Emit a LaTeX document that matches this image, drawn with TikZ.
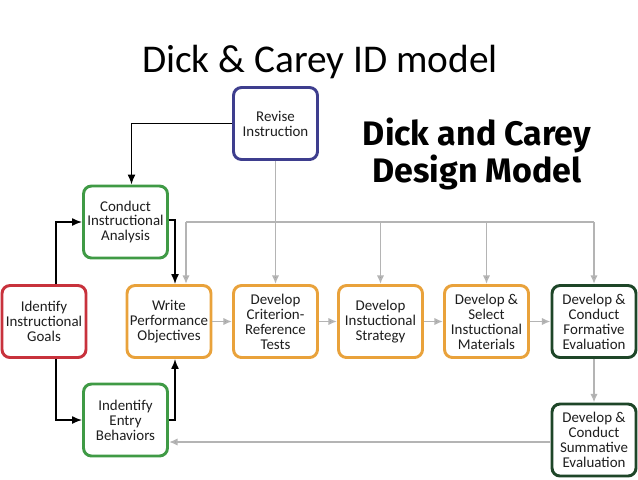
\documentclass[tikz,border=0pt]{standalone}
\usepackage{fontspec}
\setmainfont{Carlito}
\newfontfamily\headfont{Fira Sans}
\usetikzlibrary{arrows.meta,calc}
\definecolor{ink}{HTML}{1E1E1E}
\definecolor{goalred}{HTML}{C8323C}
\definecolor{stepamber}{HTML}{E9A23B}
\definecolor{analgreen}{HTML}{3F9A45}
\definecolor{evaldark}{HTML}{1E4628}
\definecolor{revnavy}{HTML}{3E3E8E}
\definecolor{feedgray}{HTML}{B4B4B4}
\tikzset{
  stepbox/.style={draw=#1, line width=2.2pt, rounded corners=6pt, fill=white, text=ink,
    minimum width=63pt, minimum height=54pt, align=center, inner sep=0.5pt,
    font=\fontsize{11.2}{11.2}\selectfont},
  blk/.style={draw=black, line width=1.1pt, -{Latex[length=7.5pt,width=6pt]}},
  gry/.style={draw=feedgray, line width=1.4pt, -{Latex[length=6.5pt,width=5.5pt,fill=feedgray!70!black]}},
  gryline/.style={draw=feedgray, line width=1.4pt}
}

\begin{document}
\begin{tikzpicture}[x=0.75pt, y=-0.75pt]
\useasboundingbox[fill=white] (0,0) rectangle (638,479);
\node[font=\fontsize{29.5}{31}\selectfont, text=black] (title) at (320,62) {Dick \& Carey ID model};
\node[font=\headfont\bfseries\fontsize{25.5}{28}\selectfont, text=black, align=center] (hd) at (477,154) {Dick and Carey\\Design Model};

% boxes
\node[stepbox=revnavy] (rev) at (275.5,123.5) {Revise\\Instruction};
\node[stepbox=analgreen] (cia) at (125.5,222) {Conduct\\Instructional\\Analysis};
\node[stepbox=goalred] (goals) at (44,321.5) {Identify\\Instructional\\Goals};
\node[stepbox=stepamber] (wpo) at (169,321.5) {Write\\Performance\\Objectives};
\node[stepbox=stepamber] (crt) at (275.5,321.5) {Develop\\Criterion-\\Reference\\Tests};
\node[stepbox=stepamber] (strat) at (380.5,321.5) {Develop\\Instuctional\\Strategy};
\node[stepbox=stepamber] (mat) at (486.5,321.5) {Develop \&\\Select\\Instuctional\\Materials};
\node[stepbox=evaldark] (form) at (594,321.5) {Develop \&\\Conduct\\Formative\\Evaluation};
\node[stepbox=analgreen] (entry) at (125.5,420) {Indentify\\Entry\\Behaviors};
\node[stepbox=evaldark] (summ) at (594,440) {Develop \&\\Conduct\\Summative\\Evaluation};

% feedback line from revise
\coordinate (fl) at (186,222);
\coordinate (fr) at (594,222);
\draw[gryline] (fl) -- (fr);
\draw[gry] (fl) -- (fl |- wpo.north);
\draw[gry] (rev.south) -- (crt.north);
\foreach \n in {strat,mat,form}{\draw[gry] (\n.north |- fl) -- (\n.north);}

% main flow
\draw[blk] (rev.west) -| ($(cia.north)+(6,0)$);
\draw[blk] ($(goals.north)+(12,0)$) |- (cia.west);
\draw[blk] ($(goals.south)+(12,0)$) |- (entry.west);
\draw[blk] ($(cia.east)+(0,-2)$) -| ($(wpo.north)+(6,0)$);
\draw[blk] (entry.east) -| ($(wpo.south)+(6,0)$);
\draw[gry] (wpo) -- (crt);
\draw[gry] (crt) -- (strat);
\draw[gry] (strat) -- (mat);
\draw[gry] (mat) -- (form);
\draw[gry] (form) -- (summ);
\draw[gry] (summ.west |- 0,442) -- (entry.east |- 0,442);
\end{tikzpicture}
\end{document}
